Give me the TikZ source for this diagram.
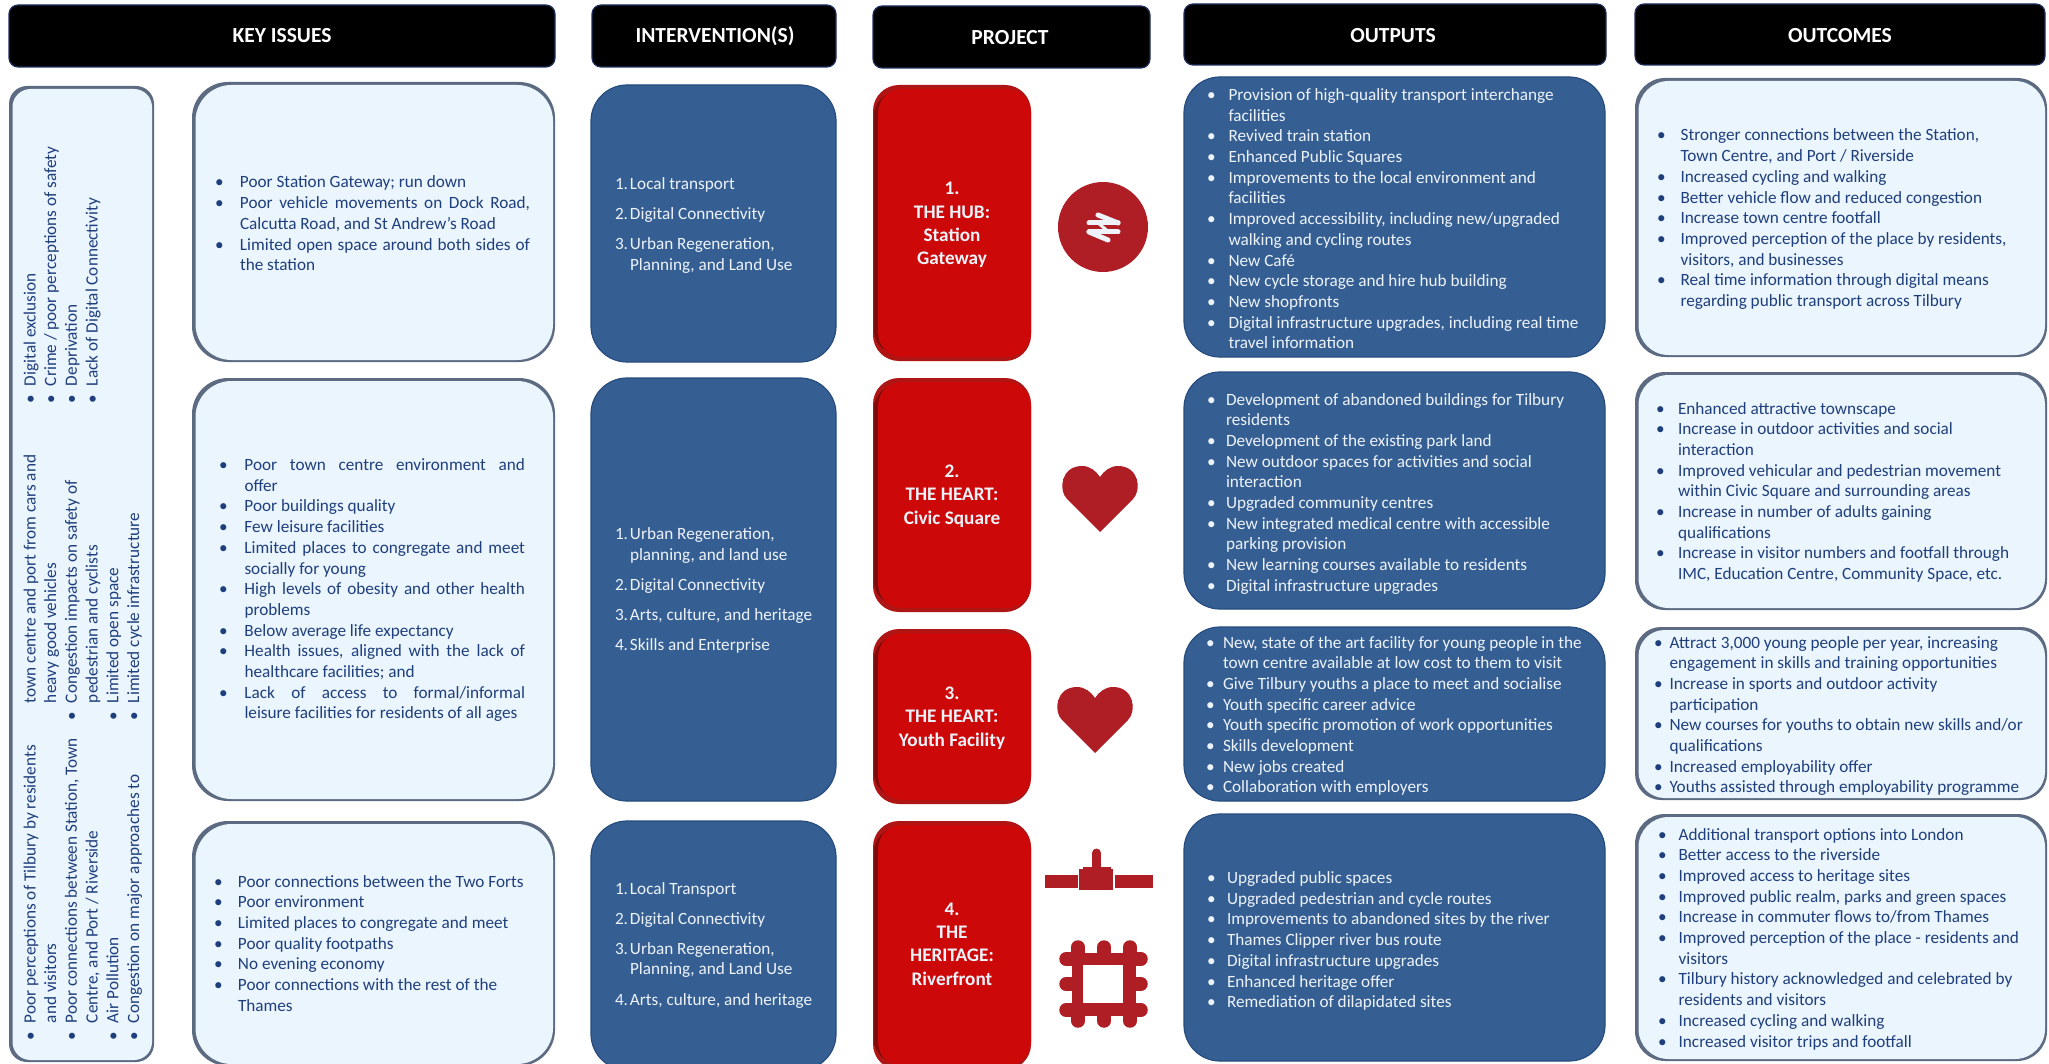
\documentclass[tikz,border=0pt]{standalone}
\usepackage{fontspec}
\setmainfont{Carlito}
\definecolor{navy}{HTML}{1F3E7C}
\definecolor{panelfill}{HTML}{EAF5FE}
\definecolor{paneledge}{HTML}{5C6B82}
\definecolor{boxblue}{HTML}{355F93}
\definecolor{boxedge}{HTML}{274C7E}
\definecolor{redfill}{HTML}{CC0808}
\definecolor{rededge}{HTML}{B01515}
\definecolor{reddark}{HTML}{7E0C0C}
\definecolor{iconred}{HTML}{B01E25}
\definecolor{softwhite}{HTML}{EEF3FA}
\definecolor{headedge}{HTML}{1F3060}
\newlength\hi
\newcommand\setfs{\fontsize{17.2}{20.7}\selectfont}
\newcommand\bi{\par\noindent\hangindent=\hi\hangafter=1\makebox[\hi][l]{\textbullet}\ignorespaces}
\newcommand\nb{\par\noindent\hangindent=\hi\hangafter=0\ignorespaces}
\newcommand\numit[1]{\par\noindent\hangindent=\hi\hangafter=1\makebox[\hi][l]{#1.}\ignorespaces}
\newcommand\blist[3]{\parbox[t]{#2}{\setfs\setlength\hi{#1}\parskip=0pt\rightskip=0pt plus 1fil\parfillskip=0pt plus 1fil #3}}
\newcommand\jlist[3]{\parbox[t]{#2}{\setfs\setlength\hi{#1}\parskip=0pt\emergencystretch=2em #3}}
\newcommand\nlist[2]{\parbox[t]{#1}{\setfs\setlength\hi{15pt}\parskip=9.4pt\rightskip=0pt plus 1fil\parfillskip=0pt plus 1fil #2}}
\newcommand\panel[5]{\fill[paneledge,rounded corners=#5pt] (#1,#2) rectangle (#3,#4);
  \fill[panelfill,rounded corners=#5pt] (#1+3.5,#2+3) rectangle (#3-2,#4-2);}
\newcommand\bluebox[4]{\draw[boxedge,fill=boxblue,line width=1.2pt,rounded corners=36pt] (#1,#2) rectangle (#3,#4);}
\newcommand\redbox[4]{\fill[rededge,rounded corners=26pt] (#1,#2) rectangle (#3,#4);
  \fill[reddark,rounded corners=24pt] (#1+1,#2+7) rectangle (#3-30,#4-7);
  \fill[redfill,rounded corners=24pt] (#1+5,#2+4) rectangle (#3,#4-4);}
\newcommand\headbox[4]{\draw[headedge,fill=black,line width=1.2pt,rounded corners=9pt] (#1,#2) rectangle (#3,#4);}
\newcommand\heartat[2]{\fill[iconred,shift={(#1,#2)}] (38,66) -- (5,33) .. controls (-4,24) and (-1,0) .. (20,0) .. controls (28,0) and (34,5) .. (38,11) .. controls (42,5) and (48,0) .. (56,0) .. controls (77,0) and (80,24) .. (71,33) -- cycle;}
\tikzset{
  x=1pt,y=-1pt,
  txt/.style={anchor=base west,inner sep=0pt,outer sep=0pt,text=navy},
  wtxt/.style={anchor=base west,inner sep=0pt,outer sep=0pt,text=softwhite},
  head/.style={text=white,font=\fontsize{21.5}{25}\selectfont\bfseries,inner sep=0pt},
  redtxt/.style={text=softwhite,align=center,inner sep=0pt,font=\fontsize{19.2}{23.4}\selectfont\bfseries},
  tab/.style={iconred,line width=13.5pt,line cap=round},
  arrowbar/.style={softwhite,line width=5pt,line cap=round},
}
\begin{document}
\begin{tikzpicture}
\useasboundingbox (0,0) rectangle (2049,1064);
\fill[white] (0,0) rectangle (2049,1064);
% headers
\headbox{9}{5}{555}{67}
\headbox{592}{5}{836}{67}
\headbox{873}{6}{1150}{68}
\headbox{1184}{4}{1606}{65}
\headbox{1635}{4}{2045}{65}
\node[head] (hk) at (282,36) {KEY ISSUES};
\node[head] (hi) at (715,36) {INTERVENTION(S)};
\node[head] (hp) at (1010,38) {PROJECT};
\node[head] (ho) at (1393,36) {OUTPUTS};
\node[head] (hc) at (1840,36) {OUTCOMES};
% panels
\panel{9}{86}{154}{1062}{18}
\panel{192}{82}{555}{362}{36}
\panel{192}{378}{555}{801}{36}
\panel{192}{821}{555}{1066}{36}
\bluebox{591}{85}{836}{362}
\bluebox{591}{378}{836}{801}
\bluebox{591}{821}{836}{1070}
\redbox{873}{85}{1031}{361}
\redbox{873}{378}{1031}{612}
\redbox{873}{629}{1031}{804}
\redbox{873}{821}{1031}{1070}
\bluebox{1184}{77}{1605}{357}
\bluebox{1184}{372}{1605}{609}
\bluebox{1184}{627}{1605}{801}
\bluebox{1184}{814}{1605}{1061}
\panel{1635}{78}{2047}{357}{30}
\panel{1635}{372}{2047}{610}{30}
\panel{1635}{627}{2047}{800}{26}
\panel{1635}{814}{2047}{1061}{30}
% left rotated text
\node[txt,rotate=90] (la) at (35.5,1040) {\blist{17pt}{400pt}{\bi Poor perceptions of Tilbury by residents\\and visitors
 \bi Poor connections between Station, Town\\Centre, and Port / Riverside
 \bi Air Pollution
 \bi Congestion on major approaches to}};
\node[txt,rotate=90] (lb) at (35.5,720) {\blist{17pt}{400pt}{\nb town centre and port from cars and\\heavy good vehicles
 \bi Congestion impacts on safety of\\pedestrian and cyclists
 \bi Limited open space
 \bi Limited cycle infrastructure}};
\node[txt,rotate=90] (lc) at (35.5,403) {\blist{17pt}{400pt}{\bi Digital exclusion
 \bi Crime / poor perceptions of safety
 \bi Deprivation
 \bi Lack of Digital Connectivity}};
% key issues
\node[txt] (k1) at (215,188) {\jlist{25pt}{315pt}{\bi Poor Station Gateway; run down
 \bi Poor vehicle movements on Dock Road,\linebreak Calcutta Road, and St Andrew’s Road
 \bi Limited open space around both sides of\linebreak the station}};
\node[txt] (k2) at (219,470.5) {\jlist{25.5pt}{306pt}{\bi Poor town centre environment and\linebreak offer
 \bi Poor buildings quality
 \bi Few leisure facilities
 \bi Limited places to congregate and meet\linebreak socially for young
 \bi High levels of obesity and other health\linebreak problems
 \bi Below average life expectancy
 \bi Health issues, aligned with the lack of\linebreak healthcare facilities; and
 \bi Lack of access to formal/informal\linebreak leisure facilities for residents of all ages}};
\node[txt] (k3) at (214,887) {\blist{24pt}{400pt}{\bi Poor connections between the Two Forts
 \bi Poor environment
 \bi Limited places to congregate and meet
 \bi Poor quality footpaths
 \bi No evening economy
 \bi Poor connections with the rest of the\\Thames}};
% interventions
\node[wtxt] (i1) at (615,189.5) {\nlist{215pt}{\numit{1}Local transport
 \numit{2}Digital Connectivity
 \numit{3}Urban Regeneration,\\Planning, and Land Use}};
\node[wtxt] (i2) at (615,539.7) {\nlist{215pt}{\numit{1}Urban Regeneration,\\planning, and land use
 \numit{2}Digital Connectivity
 \numit{3}Arts, culture, and heritage
 \numit{4}Skills and Enterprise}};
\node[wtxt] (i3) at (615,894) {\nlist{215pt}{\numit{1}Local Transport
 \numit{2}Digital Connectivity
 \numit{3}Urban Regeneration,\\Planning, and Land Use
 \numit{4}Arts, culture, and heritage}};
% project
\node[redtxt] (p1) at (952,225) {1.\\THE HUB:\\Station\\Gateway};
\node[redtxt] (p2) at (952,496) {2.\\THE HEART:\\Civic Square};
\node[redtxt] (p3) at (952,718) {3.\\THE HEART:\\Youth Facility};
\node[redtxt] (p4) at (952,944) {4.\\THE\\HERITAGE:\\Riverfront};
% icons
\fill[iconred] (1103,227) circle (45);
\draw[arrowbar] (1089,223) -- (1118,223);
\draw[arrowbar] (1089,232) -- (1118,232);
\draw[arrowbar] (1098,215) -- (1118,223);
\draw[arrowbar] (1089,232) -- (1108,240);
\draw[softwhite,line width=3pt] (1098,223) -- (1109,232);
\heartat{1062}{466}
\heartat{1057}{687}
\fill[iconred] (1045,875) rectangle (1078,888);
\fill[iconred] (1115,875) rectangle (1153,888);
\fill[iconred] (1079,869) rectangle (1113,890);
\fill[iconred] (1083,867) rectangle (1111,869);
\draw[iconred,line width=9pt,line cap=round] (1096.5,853) -- (1096.5,870);
\fill[iconred] (1072,953) rectangle (1136,1016);
\foreach \tx in {1078,1104,1130} {
  \draw[tab] (\tx,947) -- (\tx,955);
  \draw[tab] (\tx,1014) -- (\tx,1021);
}
\foreach \ty in {959,984,1010} {
  \draw[tab] (1066,\ty) -- (1074,\ty);
  \draw[tab] (1134,\ty) -- (1141,\ty);
}
\fill[white] (1083,965) rectangle (1123,1003);
% outputs
\node[wtxt] (o1) at (1207,100.5) {\blist{21.5pt}{396pt}{\bi Provision of high-quality transport interchange\\facilities
 \bi Revived train station
 \bi Enhanced Public Squares
 \bi Improvements to the local environment and\\facilities
 \bi Improved accessibility, including new/upgraded\\walking and cycling routes
 \bi New Café
 \bi New cycle storage and hire hub building
 \bi New shopfronts
 \bi Digital infrastructure upgrades, including real time\\travel information}};
\node[wtxt] (o2) at (1207,405) {\blist{19pt}{396pt}{\bi Development of abandoned buildings for Tilbury\\residents
 \bi Development of the existing park land
 \bi New outdoor spaces for activities and social\\interaction
 \bi Upgraded community centres
 \bi New integrated medical centre with accessible\\parking provision
 \bi New learning courses available to residents
 \bi Digital infrastructure upgrades}};
\node[wtxt] (o3) at (1206,648) {\blist{17pt}{396pt}{\bi New, state of the art facility for young people in the\\town centre available at low cost to them to visit
 \bi Give Tilbury youths a place to meet and socialise
 \bi Youth specific career advice
 \bi Youth specific promotion of work opportunities
 \bi Skills development
 \bi New jobs created
 \bi Collaboration with employers}};
\node[wtxt] (o4) at (1207,883.5) {\blist{20pt}{396pt}{\bi Upgraded public spaces
 \bi Upgraded pedestrian and cycle routes
 \bi Improvements to abandoned sites by the river
 \bi Thames Clipper river bus route
 \bi Digital infrastructure upgrades
 \bi Enhanced heritage offer
 \bi Remediation of dilapidated sites}};
% outcomes
\node[txt] (c1) at (1657,141) {\blist{23.6pt}{385pt}{\bi Stronger connections between the Station,\\Town Centre, and Port / Riverside
 \bi Increased cycling and walking
 \bi Better vehicle flow and reduced congestion
 \bi Increase town centre footfall
 \bi Improved perception of the place by residents,\\visitors, and businesses
 \bi Real time information through digital means\\regarding public transport across Tilbury}};
\node[txt] (c2) at (1656,414) {\blist{22pt}{385pt}{\bi Enhanced attractive townscape
 \bi Increase in outdoor activities and social\\interaction
 \bi Improved vehicular and pedestrian movement\\within Civic Square and surrounding areas
 \bi Increase in number of adults gaining\\qualifications
 \bi Increase in visitor numbers and footfall through\\IMC, Education Centre, Community Space, etc.}};
\node[txt] (c3) at (1654,648) {\blist{15.6pt}{390pt}{\bi Attract 3,000 young people per year, increasing\\engagement in skills and training opportunities
 \bi Increase in sports and outdoor activity\\participation
 \bi New courses for youths to obtain new skills and/or\\qualifications
 \bi Increased employability offer
 \bi Youths assisted through employability programme}};
\node[txt] (c4) at (1658,840) {\blist{20.6pt}{385pt}{\bi Additional transport options into London
 \bi Better access to the riverside
 \bi Improved access to heritage sites
 \bi Improved public realm, parks and green spaces
 \bi Increase in commuter flows to/from Thames
 \bi Improved perception of the place - residents and\\visitors
 \bi Tilbury history acknowledged and celebrated by\\residents and visitors
 \bi Increased cycling and walking
 \bi Increased visitor trips and footfall}};
\end{tikzpicture}
\end{document}
